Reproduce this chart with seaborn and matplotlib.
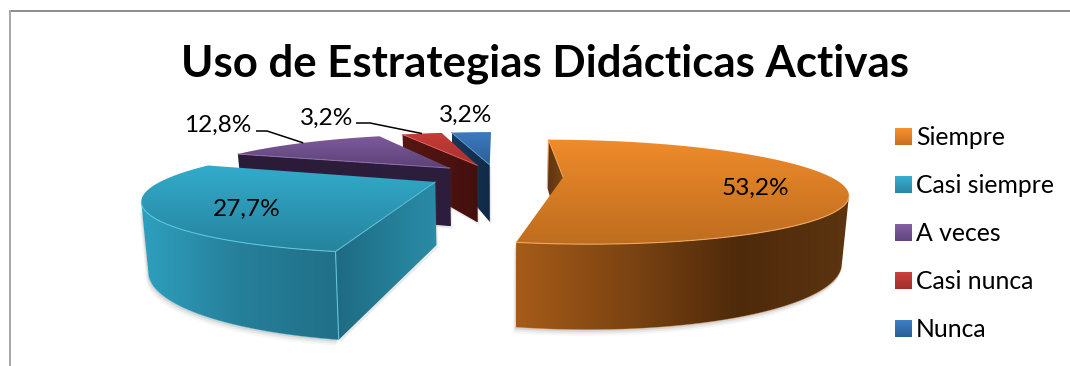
import numpy as np
import matplotlib
matplotlib.use("Agg")
import matplotlib.pyplot as plt
from matplotlib.patches import Patch, Polygon
import seaborn as sns

# Chart data
categories = ["Siempre", "Casi siempre", "A veces", "Casi nunca", "Nunca"]
percentages = [53.2, 27.7, 12.8, 3.2, 3.2]
value_labels = ["53,2%", "27,7%", "12,8%", "3,2%", "3,2%"]
chart_title = "Uso de Estrategias Didácticas Activas"

# Colour ramps per slice: top face, rim, visible cut face
top_ramps = [["#EF8B2B", "#BE6D1F"], ["#33ABCB", "#25839D"], ["#7D5A9C", "#5C4276"],
             ["#C53C38", "#A9312E"], ["#3C7ABF", "#2A5F96"]]
rim_ramps = [["#A65C18", "#7C4412", "#4E2A0B", "#5C3410"], ["#2EA0BF", "#267F99", "#216F88"],
             ["#2C1D3B", "#2C1D3B"], ["#4A1310", "#4A1310"], ["#14304F", "#14304F"]]
cut_ramps = [["#5E3510", "#754514"], ["#1E6B83", "#2A8CA7"], ["#2A1B38", "#2E1E3D"],
             ["#571713", "#430F0D"], ["#17385C", "#102945"]]
edge_colours = ["#F2A65C", "#5BC3DC", "#8E6FAC", "#D9605A", "#5E93CC"]
swatch_ramps = [["#F8922F", "#C96E1F"], ["#38B0D0", "#2A86A2"], ["#8560A6", "#5F447C"],
                ["#CC423E", "#A02E2B"], ["#3F80C6", "#2A5F96"]]

# Projection of the pie disc (radius 1) onto the canvas
CX, CY = 496.0, 176.0
SCALE_X, SCALE_Y = 266.0, 47.4
PERSPECTIVE = 0.28
EXPLODE = 0.252
HEIGHT = 61.0
BASE_SHRINK = 0.02
VIEW_Y = -1.0 / PERSPECTIVE


def project(x, y, drop=0.0):
    k = 1.0 / (1.0 + PERSPECTIVE * y)
    shrink = 1.0 - BASE_SHRINK * drop
    return CX + SCALE_X * x * k * shrink, CY - SCALE_Y * y * k + drop * HEIGHT * k


def fill_gradient(ax, poly, colours, vertical, z):
    """Paint a polygon with a linear ramp running along one axis."""
    cmap = sns.blend_palette(colours, n_colors=256, as_cmap=True)
    ramp = np.linspace(0, 1, 256)
    ramp = ramp[:, None] if vertical else ramp[None, :]
    x0, y0 = poly.min(axis=0)
    x1, y1 = poly.max(axis=0)
    im = ax.imshow(ramp, cmap=cmap, vmin=0, vmax=1, aspect="auto", origin="upper",
                   extent=(x0, x1, y1, y0), zorder=z, interpolation="bilinear")
    clip = Polygon(poly, closed=True, transform=ax.transData, facecolor="none", edgecolor="none")
    ax.add_patch(clip)
    im.set_clip_path(clip)


sns.set_theme(style="white")
plt.rcParams["font.family"] = ["Lato", "DejaVu Sans"]

fig = plt.figure(figsize=(10.7, 3.66), dpi=100, facecolor="white")
ax = fig.add_axes([0, 0, 1, 1])
ax.set_xlim(0, 1070)
ax.set_ylim(366, 0)
ax.axis("off")

# Slice angles, clockwise from the back of the disc
sweeps = np.array(percentages) / sum(percentages) * 360.0
ends = np.cumsum(sweeps)
starts = ends - sweeps
mids = np.radians((starts + ends) / 2.0)

leader_targets = {}
# Back slices first, so nearer ones cover them
paint_order = [4, 3, 2, 1, 0]
for rank, i in enumerate(paint_order):
    z = 10 + rank * 10
    t = np.radians(np.linspace(starts[i], ends[i], 240))
    ax0, ay0 = EXPLODE * np.sin(mids[i]), EXPLODE * np.cos(mids[i])
    rx, ry = ax0 + np.sin(t), ay0 + np.cos(t)

    top_u, top_v = project(rx, ry)
    low_u, low_v = project(rx, ry, 1.0)
    a_u, a_v = project(ax0, ay0)
    a_ub, a_vb = project(ax0, ay0, 1.0)

    # Rim, only where it faces the viewer
    facing = np.sin(t) * (-rx) + np.cos(t) * (VIEW_Y - ry) > 0
    if facing.any():
        idx = np.where(facing)[0]
        rim = np.column_stack([np.r_[top_u[idx], low_u[idx][::-1]],
                               np.r_[top_v[idx], low_v[idx][::-1]]])
        # Soft ground shadow under the rim
        for off, alpha in ((6, 0.05), (4, 0.08), (2, 0.12)):
            ax.fill(rim[:, 0] - off * 0.4, rim[:, 1] + off, color="#505050", alpha=alpha, lw=0, zorder=z - 2)
        fill_gradient(ax, rim, rim_ramps[i], False, z + 1)
        ax.plot(low_u[idx], low_v[idx], color=edge_colours[i], lw=0.5, alpha=0.5, zorder=z + 2)
        ax.plot(top_u[idx], top_v[idx], color=edge_colours[i], lw=0.8, zorder=z + 4)

    # Cut face on the starting edge, when turned towards the viewer
    nx, ny = np.sin(np.radians(starts[i] - 90)), np.cos(np.radians(starts[i] - 90))
    if nx * (-ax0) + ny * (VIEW_Y - ay0) > 0:
        cut = np.array([[top_u[0], top_v[0]], [a_u, a_v], [a_ub, a_vb], [low_u[0], low_v[0]]])
        fill_gradient(ax, cut, cut_ramps[i], False, z)
        if facing.any():
            ax.plot([top_u[0], low_u[0]], [top_v[0], low_v[0]], color=edge_colours[i], lw=0.8, zorder=z + 4)
        ax.plot([top_u[0], a_u], [top_v[0], a_v], color=edge_colours[i], lw=0.7, zorder=z + 4)
        shadow = cut + np.array([1.5, 2.5])
        ax.fill(shadow[:, 0], shadow[:, 1], color="#505050", alpha=0.12, lw=0, zorder=z - 2)

    # Top face
    top = np.column_stack([np.r_[a_u, top_u], np.r_[a_v, top_v]])
    fill_gradient(ax, top, top_ramps[i], True, z + 3)

    leader_targets[i] = project(ax0 + np.sin(mids[i]), ay0 + np.cos(mids[i]))

# Value labels
label_size = 17.6
ax.text(755, 188, value_labels[0], ha="center", va="center", fontsize=label_size, color="black", zorder=80)
ax.text(247, 209, value_labels[1], ha="center", va="center", fontsize=label_size, color="black", zorder=80)
ax.text(218, 125, value_labels[2], ha="center", va="center", fontsize=label_size, color="black", zorder=80)
ax.text(327, 118, value_labels[3], ha="center", va="center", fontsize=label_size, color="black", zorder=80)
ax.text(466, 115, value_labels[4], ha="center", va="center", fontsize=label_size, color="black", zorder=80)

# Leader lines for the two labels set away from their slices
for i, (x0, x1, y0) in {2: (256, 267, 131), 3: (356, 370, 123)}.items():
    tx, ty = leader_targets[i]
    ax.plot([x0, x1, tx], [y0, y0, ty], color="black", lw=1.1, zorder=79, solid_capstyle="butt")

ax.text(545, 64, chart_title, ha="center", va="center", fontsize=31.5, fontweight="bold",
        color="black", zorder=80)

handles = [Patch(facecolor=r[0], edgecolor="none", label=l) for r, l in zip(swatch_ramps, categories)]
legend = ax.legend(handles=handles, loc="center left", bbox_to_anchor=(895 / 1070, 1 - 233.5 / 366),
                   frameon=False, fontsize=17.8, handlelength=0.68, handleheight=0.68, handletextpad=0.17,
                   labelspacing=1.01, borderpad=0, borderaxespad=0, labelcolor="black")

# Shade the legend swatches the same way as the slices
fig.canvas.draw()
for patch, ramp in zip(legend.get_patches(), swatch_ramps):
    box = patch.get_window_extent().transformed(ax.transData.inverted())
    square = np.array([[box.x0, box.y0], [box.x1, box.y0], [box.x1, box.y1], [box.x0, box.y1]])
    fill_gradient(ax, square, ramp, True, 85)

# Chart frame: top and left only are in view
ax.plot([9, 1070], [11, 11], color="#8C8C8C", lw=1.4, zorder=90, solid_capstyle="butt")
ax.plot([9.5, 9.5], [10, 366], color="#A6A6A6", lw=1.4, zorder=90, solid_capstyle="butt")

fig.savefig("out.png", dpi=100, facecolor="white")
